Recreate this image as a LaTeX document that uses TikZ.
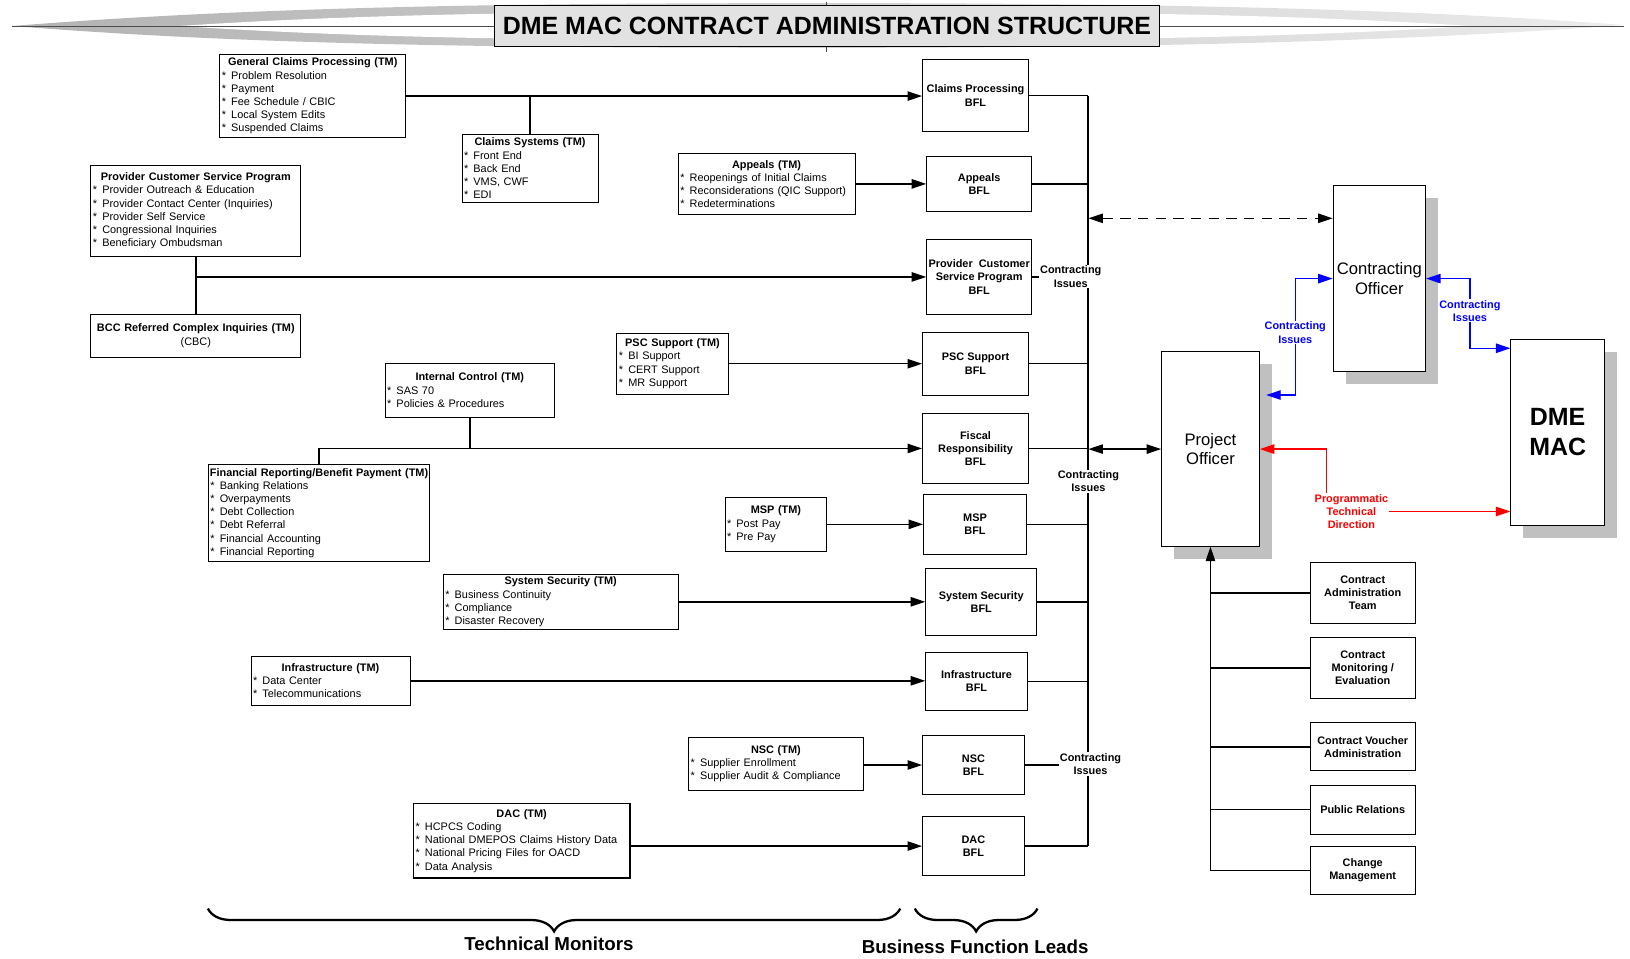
\documentclass[tikz,border=0pt]{standalone}
\usepackage{fontspec}
\setmainfont{Liberation Sans}
\usepackage{tikz}
\usetikzlibrary{arrows.meta, shadows, decorations.pathreplacing}
\usepackage{xcolor}

\definecolor{shadowgray}{RGB}{192,192,192}
\definecolor{titlegray}{RGB}{226,226,226}
\definecolor{issueblue}{RGB}{0,0,255}
\definecolor{directred}{RGB}{255,0,0}

\newcommand{\boxfont}{\fontsize{10.5}{12.7}\selectfont}
\newcommand{\tmhead}[1]{{\noindent\centering\bfseries #1\par}}
\newcommand{\tmitem}[1]{\noindent\hspace*{2pt}\makebox[9pt][l]{*}#1\par}

\begin{document}
\begin{tikzpicture}[x=1pt, y=-1pt, >={Triangle[length=14pt,width=9pt]},
        % Define styles for the boxes and the connectors
        tmbox/.style 2 args={draw, line width=0.8pt, fill=white, anchor=north west,
            inner xsep=0pt, inner ysep=1pt, text width=#1, minimum height=#2, font=\boxfont},
        bflbox/.style 2 args={draw, line width=0.8pt, fill=white, anchor=north west,
            align=center, inner sep=1pt, minimum width=#1, minimum height=#2, font=\boxfont\bfseries},
        officer/.style={draw, line width=0.8pt, fill=white, anchor=north west, align=center,
            font=\fontsize{16}{19}\selectfont,
            drop shadow={shadow xshift=12pt, shadow yshift=-12pt, fill=shadowgray, opacity=1}},
        link/.style={line width=1.4pt},
        issues/.style={fill=white, align=center, inner sep=1pt, font=\boxfont\bfseries},
        bracelabel/.style={font=\fontsize{18}{22}\selectfont\bfseries}]

        \useasboundingbox (0,0) rectangle (1568,922);

        % 1. The title banner
        \shade[left color=gray!60, right color=gray!15]
            (12,25) .. controls (250,6) and (500,3) .. (795,3)
            .. controls (1100,3) and (1350,8) .. (1562,24)
            .. controls (1350,40) and (1100,46) .. (795,46)
            .. controls (500,46) and (250,44) .. (12,25) -- cycle;
        \fill[white] (173,25) .. controls (350,13) and (550,11) .. (795,11)
            .. controls (1050,11) and (1250,14) .. (1414,25)
            .. controls (1250,36) and (1050,39) .. (795,39)
            .. controls (550,39) and (350,37) .. (173,25) -- cycle;
        \draw[gray!60!black, line width=0.8pt] (12,25) -- (1562,25);
        \draw[gray!60!black, line width=0.6pt] (795,2) -- (795,50);
        \node[draw, line width=1pt, fill=titlegray, minimum width=639pt, minimum height=40pt,
            font=\fontsize{24}{28}\selectfont\bfseries] (title) at (795.5,25)
            {DME MAC CONTRACT ADMINISTRATION STRUCTURE};

        % 2. Technical monitor boxes
        \node[tmbox={179pt}{80pt}] (gcp) at (211,52) {\tmhead{General Claims Processing (TM)}%
            \tmitem{Problem Resolution}\tmitem{Payment}\tmitem{Fee Schedule / CBIC}%
            \tmitem{Local System Edits}\tmitem{Suspended Claims}};
        \node[tmbox={131pt}{65pt}] (cs) at (444,129) {\tmhead{Claims Systems (TM)}%
            \tmitem{Front End}\tmitem{Back End}\tmitem{VMS, CWF}\tmitem{EDI}};
        \node[tmbox={170pt}{59pt}] (app) at (652,147) {\tmhead{Appeals (TM)}%
            \tmitem{Reopenings of Initial Claims}\tmitem{Reconsiderations (QIC Support)}%
            \tmitem{Redeterminations}};
        \node[tmbox={202pt}{87pt}] (pcsp) at (87,159) {\tmhead{Provider Customer Service Program}%
            \tmitem{Provider Outreach \& Education}\tmitem{Provider Contact Center (Inquiries)}%
            \tmitem{Provider Self Service}\tmitem{Congressional Inquiries}%
            \tmitem{Beneficiary Ombudsman}};
        \node[tmbox={202pt}{41pt}] (bcc) at (87,302) {\tmhead{BCC Referred Complex Inquiries (TM)}%
            {\noindent\centering (CBC)\par}};
        \node[tmbox={107pt}{59pt}] (psc) at (593,320) {\tmhead{PSC Support (TM)}%
            \tmitem{BI Support}\tmitem{CERT Support}\tmitem{MR Support}};
        \node[tmbox={163pt}{52pt}] (ic) at (370,349) {\tmhead{Internal Control (TM)}%
            \tmitem{SAS 70}\tmitem{Policies \& Procedures}};
        \node[tmbox={213pt}{94pt}] (fin) at (200,446) {\tmhead{Financial Reporting/Benefit Payment (TM)}%
            \tmitem{Banking Relations}\tmitem{Overpayments}\tmitem{Debt Collection}%
            \tmitem{Debt Referral}\tmitem{Financial Accounting}\tmitem{Financial Reporting}};
        \node[tmbox={98pt}{52pt}] (msp) at (697,478) {\tmhead{MSP (TM)}%
            \tmitem{Post Pay}\tmitem{Pre Pay}};
        \node[tmbox={226pt}{53pt}] (ss) at (426,552) {\tmhead{System Security (TM)}%
            \tmitem{Business Continuity}\tmitem{Compliance}\tmitem{Disaster Recovery}};
        \node[tmbox={153pt}{47pt}] (inf) at (241,631) {\tmhead{Infrastructure (TM)}%
            \tmitem{Data Center}\tmitem{Telecommunications}};
        \node[tmbox={168pt}{51pt}] (nsc) at (662,709) {\tmhead{NSC (TM)}%
            \tmitem{Supplier Enrollment}\tmitem{Supplier Audit \& Compliance}};
        \node[tmbox={208pt}{72pt}, line width=1.6pt] (dac) at (397,772) {\tmhead{DAC (TM)}%
            \tmitem{HCPCS Coding}\tmitem{National DMEPOS Claims History Data}%
            \tmitem{National Pricing Files for OACD}\tmitem{Data Analysis}};

        % 3. Business function lead boxes
        \node[bflbox={102pt}{69pt}] (cpb) at (887,57) {Claims Processing\\BFL};
        \node[bflbox={101pt}{53pt}] (apb) at (891,150) {Appeals\\BFL};
        \node[bflbox={101pt}{72pt}] (pcb) at (891,230) {Provider~ Customer\\Service Program\\BFL};
        \node[bflbox={102pt}{61pt}] (pscb) at (887,319) {PSC Support\\BFL};
        \node[bflbox={102pt}{68pt}] (fisb) at (887,397) {Fiscal\\Responsibility\\BFL};
        \node[bflbox={99pt}{58pt}] (mspb) at (888,475) {MSP\\BFL};
        \node[bflbox={107pt}{65pt}] (ssb) at (890,546) {System Security\\BFL};
        \node[bflbox={98pt}{56pt}] (infb) at (890,627) {Infrastructure\\BFL};
        \node[bflbox={98pt}{57pt}] (nscb) at (887,707) {NSC\\BFL};
        \node[bflbox={98pt}{57pt}] (dacb) at (887,785) {DAC\\BFL};

        % 4. Officers, the contractor and the PO staff
        \node[officer, minimum width=89pt, minimum height=179pt] (co) at (1282,178) {Contracting\\Officer};
        \node[officer, minimum width=94pt, minimum height=187pt] (po) at (1117,338) {Project\\Officer};
        \node[officer, minimum width=90pt, minimum height=179pt,
            font=\fontsize{24}{29}\selectfont\bfseries] (dme) at (1453,326) {DME\\MAC};
        \node[bflbox={101pt}{58pt}] (cat) at (1260,541) {Contract\\Administration\\Team};
        \node[bflbox={101pt}{58pt}] (cme) at (1260,613) {Contract\\Monitoring /\\Evaluation};
        \node[bflbox={101pt}{46pt}] (cva) at (1260,695) {Contract Voucher\\Administration};
        \node[bflbox={101pt}{47pt}] (pr) at (1260,755) {Public Relations};
        \node[bflbox={101pt}{46pt}] (chm) at (1260,814) {Change\\Management};

        % 5. Monitors to leads
        \draw[link, ->] (gcp.east) -- (gcp.east -| cpb.west);
        \draw[link] (cs.north) -- (cs.north |- gcp.east);
        \draw[link, ->] (app.east) -- (app.east -| apb.west);
        \draw[link] (pcsp.south) -- (bcc.north);
        \draw[link, ->] (pcsp.south) |- (pcb.west);
        \draw[link, ->] (psc.east) -- (psc.east -| pscb.west);
        \draw[link] (ic.south) -- (ic.south |- fisb.west);
        \draw[link, ->] (fin.north) |- (fisb.west);
        \draw[link, ->] (msp.east |- mspb.west) -- (mspb.west);
        \draw[link, ->] (ss.east) -- (ss.east -| ssb.west);
        \draw[link, ->] (inf.east) -- (inf.east -| infb.west);
        \draw[link, ->] (nsc.east |- nscb.west) -- (nscb.west);
        \draw[link, ->] (dac.east |- dacb.west) -- (dacb.west);

        % 6. Leads to the bus, with the issue labels on top
        \coordinate (bustop) at (1047,92);
        \draw[line width=1.8pt] (bustop) -- (bustop |- dacb.east);
        \foreach \b in {cpb,apb,pcb,pscb,fisb,mspb,ssb,infb,nscb,dacb}
            \draw[link] (\b.east) -- (\b.east -| bustop);
        \node[issues] (iss1) at (1030,266) {Contracting\\Issues};
        \node[issues] (iss2) at (1047,463) {Contracting\\Issues};
        \node[issues] (iss3) at (1049,735) {Contracting\\Issues};

        \coordinate (busco) at (1047,210);
        \draw[link, dash pattern=on 10pt off 7pt, <->] (busco) -- (busco -| co.west);
        \coordinate (buspo) at (1047,432);
        \draw[link, <->] (buspo) -- (buspo -| po.west);

        % 7. Blue contracting issues and red technical direction
        \coordinate (bluepo) at (1218,380);
        \coordinate (bluea) at (1246,268);
        \draw[link, issueblue, <->] (bluepo) -| (bluea) -- (bluea -| co.west);
        \node[issues, text=issueblue] (biss1) at (1246,320) {Contracting\\Issues};
        \coordinate (blueb) at (1414,268);
        \draw[link, issueblue, <->] (blueb -| co.east) -- (blueb) |- (dme.west |- 0,335);
        \node[issues, text=issueblue] (biss2) at (1414,299) {Contracting\\Issues};

        \coordinate (redbend) at (1276,432);
        \node[issues, text=directred] (ptd) at (1300,492) {Programmatic\\Technical\\Direction};
        \draw[link, directred, <-] (po.east |- redbend) -- (redbend) -- (redbend |- ptd.north);
        \draw[link, directred, ->] (ptd.east) -- (ptd.east -| dme.west);

        % 8. PO staff feeding the Project Officer
        \draw[link, ->] (po.south |- chm.west) -- (po.south);
        \foreach \t in {cat,cme,cva,pr,chm}
            \draw[link] (\t.west) -- (\t.west -| po.south);

        % 9. Braces along the bottom
        \draw[line width=2.2pt, decorate, decoration={brace, mirror, amplitude=22pt}]
            (200,874) -- (866,874);
        \draw[line width=2.2pt, decorate, decoration={brace, mirror, amplitude=22pt}]
            (880,874) -- (998,874);
        \node[bracelabel] (tmlabel) at (528,908) {Technical Monitors};
        \node[bracelabel] (bfllabel) at (938,911) {Business Function Leads};
    \end{tikzpicture}
\end{document}
